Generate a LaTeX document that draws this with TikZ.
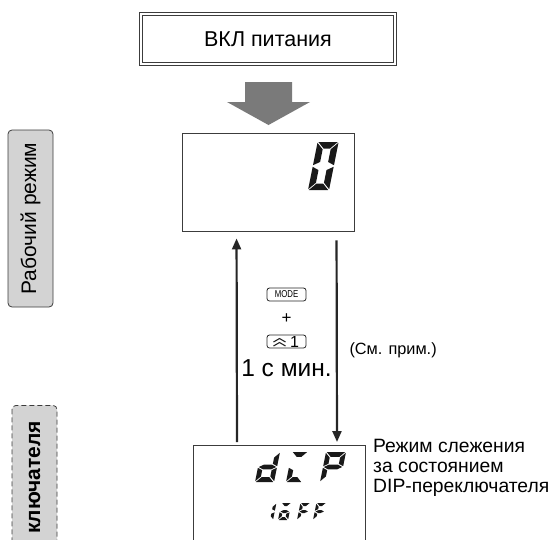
\documentclass[tikz,border=0pt]{standalone}
\usepackage{fontspec}
\setmainfont{Liberation Sans}
\usetikzlibrary{arrows.meta}

\definecolor{panelgray}{RGB}{211,211,211}
\definecolor{arrowgray}{RGB}{122,122,122}
\definecolor{linegray}{RGB}{60,60,60}

% seven-segment pieces: \sgw width, \sgh height, \sgt thickness, \sgg gap
\newcommand{\sgg}{0.8}
\newcommand{\segA}{\fill (\sgg,\sgh) -- (\sgw-\sgg,\sgh) -- (\sgw-\sgt-\sgg,\sgh-\sgt) -- (\sgt+\sgg,\sgh-\sgt) -- cycle;}
\newcommand{\segB}{\fill (\sgw,\sgh-\sgg) -- (\sgw-\sgt,\sgh-\sgt-\sgg) -- (\sgw-\sgt,\sgh/2+\sgt/2+\sgg) -- (\sgw,\sgh/2+\sgg) -- cycle;}
\newcommand{\segC}{\fill (\sgw,\sgh/2-\sgg) -- (\sgw-\sgt,\sgh/2-\sgt/2-\sgg) -- (\sgw-\sgt,\sgt+\sgg) -- (\sgw,\sgg) -- cycle;}
\newcommand{\segD}{\fill (\sgg,0) -- (\sgw-\sgg,0) -- (\sgw-\sgt-\sgg,\sgt) -- (\sgt+\sgg,\sgt) -- cycle;}
\newcommand{\segE}{\fill (0,\sgh/2-\sgg) -- (\sgt,\sgh/2-\sgt/2-\sgg) -- (\sgt,\sgt+\sgg) -- (0,\sgg) -- cycle;}
\newcommand{\segF}{\fill (0,\sgh-\sgg) -- (\sgt,\sgh-\sgt-\sgg) -- (\sgt,\sgh/2+\sgt/2+\sgg) -- (0,\sgh/2+\sgg) -- cycle;}
\newcommand{\segG}{\fill (\sgg,\sgh/2) -- (\sgt+\sgg,\sgh/2+\sgt/2) -- (\sgw-\sgt-\sgg,\sgh/2+\sgt/2) -- (\sgw-\sgg,\sgh/2) -- (\sgw-\sgt-\sgg,\sgh/2-\sgt/2) -- (\sgt+\sgg,\sgh/2-\sgt/2) -- cycle;}
% #1 bottom left, #2 width, #3 height, #4 thickness, #5 segments
\newcommand{\sevenseg}[5]{%
  \begin{scope}[shift={#1}, x=1pt, y=1pt, xslant=0.2, black!90]
    \def\sgw{#2}\def\sgh{#3}\def\sgt{#4}
    #5
  \end{scope}}

\begin{document}
\begin{tikzpicture}[x=1pt, y=-1pt,
    powerbox/.style={draw=linegray, line width=1.1pt, double, double distance=1.6pt,
      minimum width=254pt, minimum height=50pt, inner sep=0pt,
      font=\fontsize{21.5}{24}\selectfont},
    lcd/.style={draw=linegray, line width=0.9pt, inner sep=0pt},
    modebox/.style={draw=linegray, fill=panelgray, rounded corners=4pt, line width=0.8pt,
      rotate=90, minimum height=45pt, inner sep=0pt},
    key/.style={draw=black!85, rounded corners=2.5pt, line width=0.8pt,
      minimum width=39pt, minimum height=13pt, inner sep=0pt},
    flow/.style={line width=2.2pt, draw=black!85, -{Triangle[width=9pt,length=11pt]}}]
  \useasboundingbox (0,0) rectangle (551,539);
  \clip (0,0) rectangle (551,539);

  % power on
  \node[powerbox] (power) at (268,39) {ВКЛ питания};
  \fill[arrowgray] (245,82) -- (292,82) -- (292,102) -- (310,102) -- (268.5,125)
    -- (227,102) -- (245,102) -- cycle;

  % displays
  \node[lcd, minimum width=172pt, minimum height=98pt] (run) at (268,182) {};
  \node[lcd, anchor=north west, minimum width=172pt, minimum height=160pt] (dip) at (193,445) {};
  \sevenseg{(308,190)}{21}{48}{6.5}{\segA\segB\segC\segD\segE\segF}
  \sevenseg{(255,482)}{19}{30}{4.8}{\segB\segC\segD\segE\segG}
  \sevenseg{(286,482)}{16}{30}{4.8}{\segA\segD\segE}
  \sevenseg{(320,482)}{20}{30}{4.8}{\segA\segB\segE\segF\segG}
  \sevenseg{(264,520)}{9}{17}{3}{\segB\segC}
  \sevenseg{(278,520)}{10}{17}{3}{\segA\segC\segD\segE\segG}
  \sevenseg{(297,520)}{10}{17}{3}{\segA\segE\segF\segG}
  \sevenseg{(313,520)}{10}{17}{3}{\segA\segE\segF\segG}

  % mode labels
  \node[modebox, minimum width=177pt, font=\fontsize{21}{24}\selectfont] (runlbl) at (30.5,218.5) {Рабочий режим};
  \node[modebox, dashed, dash pattern=on 5pt off 3pt, minimum width=235pt, anchor=east] (dipbox) at (34.5,405) {};
  \node[rotate=90, anchor=east, inner sep=0pt, font=\fontsize{21}{24}\selectfont\bfseries] (diplbl) at (34.5,421) {ключателя};

  % transitions
  \draw[flow] ([xshift=44pt,yshift=3pt]dip.north west) -- ([xshift=55pt,yshift=-7pt]run.south west);
  \draw[flow] ([xshift=155pt,yshift=-9pt]run.south west) -- ([xshift=144pt,yshift=3pt]dip.north west);

  % keys
  \node[key, font=\fontsize{10}{10}\selectfont] (mode) at (286.5,294.5) {\scalebox{0.78}[1]{MODE}};
  \node[font=\fontsize{17}{18}\selectfont] (plus) at (286.5,319) {+};
  \node[key] (up) at (286.5,341.5) {};
  \node[font=\fontsize{16}{16}\selectfont, inner sep=0pt] (one) at ([xshift=8pt]up.center) {1};
  \draw[line width=1.1pt, black!85] ([xshift=-13pt,yshift=-0.5pt]up.center) -- ++(6pt,3.5pt) -- ++(6pt,-3.5pt);
  \draw[line width=1.1pt, black!85] ([xshift=-13pt,yshift=-4.5pt]up.center) -- ++(6pt,3.5pt) -- ++(6pt,-3.5pt);
  \node[font=\fontsize{24.5}{27}\selectfont] (hold) at (286.5,368) {1 с мин.};
  \node[anchor=west, font=\fontsize{16.3}{18}\selectfont] (note) at (346,350) {(См. прим.)};

  % description
  \node[anchor=west, align=left, inner sep=0pt, font=\fontsize{19.3}{19.8}\selectfont] (diptext) at (373,468)
    {Режим слежения\\за состоянием\\DIP-переключателя};
\end{tikzpicture}
\end{document}
